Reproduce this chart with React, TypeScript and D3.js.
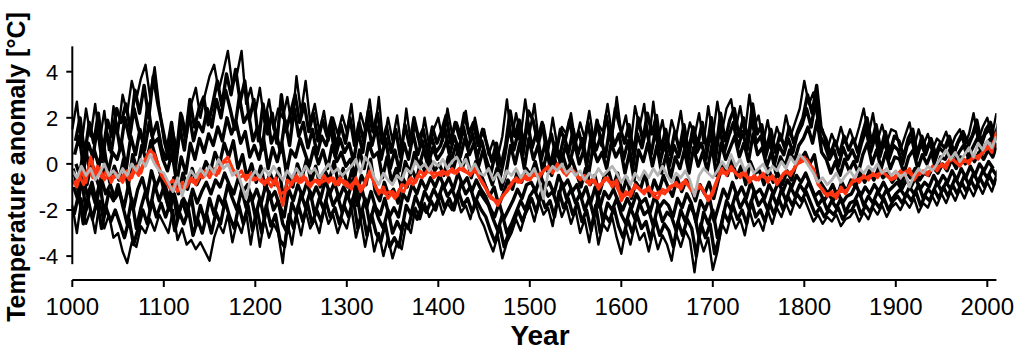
import React from "react";
import * as d3 from "d3";

const STEP = 5;

const xTicks = [1000, 1100, 1200, 1300, 1400, 1500, 1600, 1700, 1800, 1900, 2000];
const yTicks = [-4, -2, 0, 2, 4];

const hi = [
  1.5, 2.7, 0.8, 2.4, 1.2, 2.6, 1.0, 2.3, 0.6, 2.5,
  1.4, 3.0, 2.2, 3.6, 2.8, 3.7, 4.3, 2.9, 4.2, 2.5,
  1.0, 0.2, 1.4, 0.5, 2.1, 1.2, 2.6, 3.3, 2.0, 3.0,
  3.8, 4.3, 3.2, 4.0, 4.9, 3.4, 3.9, 4.9, 2.6, 3.3,
  2.2, 3.3, 1.8, 2.8, 1.5, 2.4, 2.0, 2.9, 1.6, 3.8,
  2.2, 3.6, 1.8, 2.6, 1.4, 2.3, 1.0, 2.0, 1.3, 2.1,
  1.4, 2.6, 0.9, 2.2, 1.5, 2.8, 1.2, 2.9, 0.8, 2.0,
  1.0, 2.1, 0.6, 2.4, 0.9, 1.7, 0.7, 2.0, 0.8, 1.5,
  2.0, 1.0, 2.4, 1.3, 1.8, 1.2, 2.3, 0.9, 2.0, 1.0,
  1.5, 0.4, 1.0, 0.3, 1.2, 2.8, 1.0, 2.2, 1.2, 2.8,
  1.4, 2.6, 0.9, 1.7, 0.6, 2.0, 0.8, 1.6, 1.3, 2.2,
  0.9, 1.8, 1.1, 2.3, 1.0, 1.7, 1.4, 2.6, 1.2, 2.9,
  1.3, 2.1, 0.8, 2.5, 1.6, 2.6, 0.9, 2.7, 1.0, 1.9,
  0.7, 1.9, 1.2, 2.3, 0.8, 1.8, 1.2, 2.2, 0.9, 2.5,
  1.2, 2.7, 1.4, 2.4, 2.8, 1.5, 2.5, 1.3, 3.0, 1.6,
  2.1, 0.9, 1.9, 0.7, 1.6, 1.0, 2.1, 1.2, 1.8, 2.4,
  3.6, 2.6, 3.1, 1.8, 1.5, 0.6, 1.3, 0.8, 1.6, 0.9,
  1.5, 0.9, 1.6, 2.4, 1.2, 2.2, 1.0, 1.7, 0.9, 1.5,
  1.4, 0.6, 1.2, 1.8, 0.7, 1.5, 0.8, 1.3, 0.6, 1.1,
  0.9, 1.4, 0.7, 1.2, 1.5, 0.8, 1.3, 2.2, 1.0, 1.6,
  2.0, 1.2, 2.2,
];

const lo = [
  -1.8, -3.0, -1.5, -2.6, -2.0, -3.0, -1.6, -2.8, -2.2, -3.2,
  -3.0, -3.8, -4.3, -3.4, -3.6, -2.7, -3.0, -2.4, -2.9, -2.2,
  -2.6, -3.0, -2.0, -3.3, -2.8, -3.5, -3.3, -3.7, -3.4, -3.8,
  -4.2, -3.2, -2.6, -3.0, -2.2, -3.4, -2.5, -3.0, -2.1, -3.5,
  -2.2, -3.6, -2.4, -3.2, -2.6, -3.0, -4.3, -2.5, -3.5, -2.2,
  -3.1, -2.0, -2.8, -2.4, -3.0, -1.9, -2.6, -2.2, -3.0, -2.4,
  -2.8, -1.9, -3.2, -2.4, -3.6, -2.6, -3.8, -3.0, -4.0, -3.2,
  -4.1, -3.4, -3.7, -2.6, -3.0, -1.9, -2.4, -1.7, -2.3, -1.9,
  -1.5, -2.2, -1.7, -2.0, -1.4, -2.1, -1.8, -2.4, -1.6, -2.3,
  -2.7, -3.3, -3.8, -3.1, -4.1, -3.4, -3.0, -2.4, -2.9, -2.2,
  -1.8, -2.5, -1.6, -2.2, -1.9, -2.7, -1.5, -2.3, -1.8, -2.6,
  -2.0, -3.0, -2.4, -3.4, -2.2, -3.5, -2.6, -2.9, -2.3, -3.2,
  -3.9, -2.8, -3.5, -2.6, -3.3, -3.0, -3.8, -2.9, -3.7, -3.1,
  -3.5, -4.2, -3.0, -3.6, -2.9, -3.3, -4.7, -3.1, -3.8, -3.2,
  -4.6, -3.8, -2.6, -3.0, -2.2, -2.8, -2.4, -3.1, -2.0, -2.7,
  -2.4, -2.9, -2.0, -2.6, -1.9, -2.3, -1.7, -2.2, -1.6, -1.9,
  -1.5, -2.0, -2.5, -2.2, -2.6, -2.3, -2.5, -2.2, -2.7, -2.4,
  -2.3, -2.0, -2.5, -2.1, -2.4, -1.9, -2.2, -1.8, -2.3, -1.9,
  -1.7, -2.0, -1.6, -1.9, -1.5, -2.1, -1.7, -1.9, -1.4, -1.8,
  -1.3, -1.7, -1.2, -1.6, -1.1, -1.5, -1.0, -1.4, -0.9, -1.3,
  -0.8, -1.2, -0.6,
];

const mid1 = [
  0.4, 1.2, -0.2, 0.9, 0.3, 1.6, 0.1, 1.4, 0.5, 1.8,
  0.6, 2.0, 1.1, 2.4, 1.5, 1.0, 2.6, 1.2, 1.8, 0.7,
  0.2, 1.2, -0.3, 1.6, 0.6, 2.2, 1.0, 1.8, 1.4, 2.4,
  1.6, 2.8, 2.0, 3.2, 2.4, 1.5, 2.9, 1.8, 2.2, 1.0,
  1.6, 0.6, 2.3, 0.9, 1.4, 0.5, 1.9, 0.8, 2.4, 1.2,
  1.8, 0.7, 1.5, 0.4, 1.2, 0.8, 1.6, 0.3, 1.1, 0.5,
  0.9, 0.1, 1.4, 0.5, 1.9, 0.8, 1.6, 0.2, 1.1, -0.2,
  0.6, -0.3, 0.9, 0.2, 1.3, 0.4, 1.0, 0.1, 1.2, 0.5,
  0.8, 1.5, 0.4, 1.2, 0.6, 1.6, 0.7, 1.3, 0.3, 1.0,
  0.2, -0.4, 0.5, -0.6, 0.3, 1.6, 0.6, 1.4, 0.4, 1.8,
  0.7, 1.4, 0.2, 1.0, -0.1, 0.9, 0.3, 1.2, 0.5, 1.5,
  0.4, 1.1, 0.0, 1.4, 0.6, 1.2, 0.3, 1.6, 0.8, 1.3,
  0.2, 1.0, -0.2, 1.3, 0.7, 1.6, 0.4, 1.5, 0.1, 0.9,
  -0.1, 0.8, 0.3, 1.1, 0.0, 1.3, 0.5, 0.9, 0.2, 1.4,
  0.1, 1.6, 0.5, 1.2, 1.8, 0.7, 1.4, 0.6, 2.0, 0.9,
  1.2, 0.3, 1.0, 0.0, 0.8, 0.4, 1.1, 0.5, 1.3, 1.7,
  2.4, 1.6, 2.8, 1.2, 0.8, 0.2, 0.6, -0.1, 0.7, 0.2,
  0.6, 0.1, 0.9, 1.5, 0.5, 1.2, 0.3, 1.0, 0.2, 0.8,
  0.6, 0.0, 0.8, 1.1, 0.2, 0.9, 0.4, 1.0, 0.1, 0.7,
  0.5, 1.0, 0.3, 0.9, 1.2, 0.6, 1.1, 1.6, 0.7, 1.3,
  1.5, 0.9, 1.8,
];

const mid2 = [
  -1.4, -0.6, -2.0, -1.0, -1.7, -0.8, -2.2, -1.2, -1.6, -0.9,
  -1.8, -2.6, -1.5, -2.8, -1.9, -1.2, -2.0, -0.9, -1.6, -1.0,
  -1.9, -1.2, -2.4, -1.6, -2.2, -1.4, -2.7, -1.8, -2.5, -1.5,
  -2.2, -1.4, -1.8, -0.9, -1.5, -2.0, -1.1, -1.9, -1.3, -2.3,
  -1.5, -2.4, -1.2, -2.0, -1.6, -2.6, -3.0, -1.7, -2.2, -1.3,
  -1.9, -1.2, -2.2, -1.5, -2.0, -1.1, -1.8, -1.4, -2.1, -1.3,
  -1.8, -1.0, -2.3, -1.5, -2.6, -1.8, -2.4, -2.8, -2.0, -3.0,
  -2.5, -2.9, -1.8, -2.2, -1.4, -1.9, -1.2, -1.6, -1.1, -1.5,
  -0.9, -1.4, -1.1, -1.6, -0.8, -1.3, -1.0, -1.7, -1.2, -1.5,
  -1.8, -2.4, -2.9, -2.2, -3.0, -2.6, -2.1, -1.6, -2.0, -1.4,
  -1.1, -1.6, -0.9, -1.4, -1.2, -1.8, -0.8, -1.5, -1.1, -1.7,
  -1.3, -2.0, -1.5, -2.3, -1.4, -2.5, -1.7, -2.0, -1.5, -2.2,
  -2.6, -1.9, -2.4, -1.7, -2.2, -2.0, -2.7, -1.8, -2.5, -2.1,
  -2.3, -2.9, -2.0, -2.5, -1.8, -2.2, -3.2, -2.1, -2.6, -2.0,
  -3.2, -2.5, -1.6, -2.0, -1.3, -1.9, -1.5, -2.0, -1.2, -1.8,
  -1.5, -2.0, -1.3, -1.8, -1.1, -1.6, -1.0, -1.4, -0.9, -1.2,
  -0.8, -1.3, -1.8, -1.5, -2.0, -1.6, -1.9, -1.5, -2.1, -1.7,
  -1.6, -1.2, -1.8, -1.4, -1.7, -1.2, -1.5, -1.1, -1.6, -1.3,
  -1.1, -1.4, -1.0, -1.3, -0.9, -1.5, -1.1, -1.3, -0.8, -1.2,
  -0.8, -1.1, -0.6, -1.0, -0.5, -0.9, -0.4, -0.8, -0.3, -0.6,
  -0.2, -0.5, 0.1,
];

const mid3 = [
  -0.2, -1.1, 0.3, -0.9, 0.1, -0.6, -1.2, 0.2, -0.8, -0.1,
  -0.7, 0.2, -1.0, 0.4, -0.3, 0.8, 0.1, 1.0, 0.3, -0.4,
  -0.9, -1.5, -0.6, -1.3, -0.4, -1.1, -0.2, -0.9, -0.5, 0.1,
  -0.3, 0.5, 0.0, 0.9, 0.3, 1.0, -0.2, 0.4, -0.6, 0.0,
  -0.8, -0.1, -1.1, -0.4, -0.9, -0.2, -1.6, -0.5, -1.0, 0.0,
  -0.6, 0.2, -0.8, -0.1, -1.0, -0.3, -0.7, 0.1, -0.9, -0.2,
  -1.0, -0.2, -1.3, -0.5, -0.9, 0.2, -1.2, -1.6, -0.8, -1.4,
  -1.1, -1.7, -0.6, -1.0, -0.2, -0.7, 0.1, -0.4, 0.2, -0.3,
  0.0, -0.5, 0.3, -0.3, 0.5, -0.2, 0.4, -0.6, 0.1, -0.4,
  -0.9, -1.4, -1.0, -1.8, -1.3, -0.7, -1.1, -0.4, -0.8, -0.2,
  -0.5, 0.1, -0.7, -0.1, -0.4, 0.3, -0.2, 0.4, -0.3, 0.2,
  -0.4, -1.0, -0.2, -0.9, -0.5, -1.3, -0.6, -0.3, -1.0, -0.4,
  -1.3, -0.6, -1.5, -0.8, -1.1, -0.4, -1.4, -0.7, -1.2, -0.5,
  -1.0, -1.4, -0.6, -1.2, -0.7, -1.0, -1.6, -0.9, -1.3, -0.8,
  -1.5, -0.7, 0.0, -0.5, 0.2, -0.6, -0.1, -0.9, 0.1, -0.4,
  -0.3, -0.9, -0.2, -0.8, -0.4, -0.9, -0.3, -0.7, 0.0, 0.2,
  0.5, 0.0, 0.4, -0.7, -1.0, -1.3, -0.9, -1.4, -0.8, -1.2,
  -0.7, -1.0, -0.4, -0.8, -0.3, -0.7, -0.2, -0.6, -0.4, -0.8,
  -0.5, -0.9, -0.3, -0.6, -0.2, -0.7, -0.4, -0.5, -0.1, -0.4,
  0.0, -0.3, 0.2, -0.2, 0.3, 0.0, 0.4, 0.1, 0.5, 0.2,
  0.6, 0.3, 0.9,
];

const mid4 = [
  1.0, 2.0, 0.4, 1.8, 0.9, 2.2, 0.5, 1.9, 1.2, 2.4,
  1.8, 2.6, 1.5, 3.2, 2.2, 3.4, 2.0, 3.8, 2.6, 1.6,
  0.6, 1.8, 0.3, 2.2, 1.1, 2.8, 1.6, 2.4, 2.9, 1.7,
  2.6, 3.6, 2.5, 3.9, 3.0, 4.1, 2.7, 3.6, 1.9, 2.8,
  1.0, 2.6, 1.3, 2.2, 0.9, 3.0, 1.4, 2.2, 3.0, 1.8,
  2.6, 1.4, 2.2, 1.0, 1.9, 1.2, 2.0, 0.7, 1.7, 0.9,
  2.0, 0.8, 1.8, 1.0, 2.3, 1.4, 2.2, 0.9, 1.6, 0.5,
  1.5, 0.3, 1.7, 0.8, 2.0, 1.1, 1.5, 0.5, 1.6, 0.9,
  1.4, 2.1, 0.9, 1.8, 1.1, 2.2, 1.3, 1.8, 0.8, 1.5,
  0.8, 0.1, 0.9, -0.1, 0.8, 2.3, 1.2, 1.9, 0.8, 2.3,
  1.9, 1.0, 1.8, 0.5, 1.3, 0.4, 1.5, 1.0, 1.9, 0.8,
  1.4, 0.6, 1.8, 0.7, 1.9, 0.8, 2.1, 1.0, 2.4, 1.6,
  0.9, 1.7, 0.4, 2.0, 1.0, 2.2, 1.3, 2.1, 0.6, 1.5,
  0.4, 1.4, 0.6, 1.7, 0.5, 1.6, 0.8, 1.8, 0.6, 2.0,
  0.6, 2.2, 1.0, 1.9, 2.4, 1.2, 2.0, 1.0, 2.6, 1.3,
  1.7, 0.6, 1.5, 0.5, 1.3, 0.7, 1.6, 0.9, 1.5, 2.0,
  3.0, 2.2, 3.4, 1.5, 1.1, 0.4, 1.0, 0.4, 1.2, 0.6,
  1.1, 0.5, 1.3, 2.0, 0.9, 1.7, 0.6, 1.4, 0.5, 1.2,
  1.0, 0.3, 1.1, 1.5, 0.4, 1.2, 0.6, 1.1, 0.4, 0.9,
  0.7, 1.2, 0.5, 1.0, 1.4, 0.9, 1.2, 1.9, 0.9, 1.5,
  1.8, 1.1, 2.0,
];

const mid5 = [
  -2.2, -1.3, -2.6, -1.5, -2.4, -1.6, -2.8, -1.9, -2.5, -2.0,
  -2.6, -3.2, -2.4, -3.5, -2.8, -2.0, -2.6, -1.6, -2.3, -1.7,
  -2.3, -1.7, -2.9, -2.1, -2.6, -2.0, -3.1, -2.4, -3.0, -2.2,
  -3.0, -2.1, -2.6, -1.6, -2.3, -2.8, -1.8, -2.6, -1.8, -2.9,
  -2.0, -3.0, -1.8, -2.7, -2.2, -3.3, -3.6, -2.2, -2.8, -1.8,
  -2.5, -1.7, -2.6, -2.0, -2.5, -1.6, -2.3, -1.9, -2.6, -1.8,
  -2.3, -1.5, -2.8, -2.0, -3.1, -2.2, -3.0, -3.4, -2.6, -3.6,
  -3.2, -3.6, -2.5, -2.8, -2.0, -2.4, -1.8, -2.1, -1.6, -2.0,
  -1.3, -1.9, -1.5, -2.0, -1.2, -1.8, -1.5, -2.1, -1.6, -2.0,
  -2.3, -2.9, -3.4, -2.7, -3.6, -3.0, -2.6, -2.0, -2.5, -1.9,
  -1.5, -2.1, -1.3, -1.9, -1.6, -2.3, -1.2, -1.9, -1.5, -2.2,
  -1.7, -2.5, -2.0, -2.9, -1.8, -3.0, -2.2, -2.5, -1.9, -2.7,
  -3.2, -2.4, -3.0, -2.2, -2.8, -2.5, -3.3, -2.4, -3.1, -2.6,
  -2.9, -3.6, -2.5, -3.1, -2.4, -2.8, -4.0, -2.6, -3.2, -2.6,
  -3.9, -3.2, -2.1, -2.5, -1.8, -2.4, -2.0, -2.6, -1.6, -2.3,
  -2.0, -2.5, -1.7, -2.2, -1.5, -2.0, -1.4, -1.8, -1.3, -1.6,
  -1.2, -1.7, -2.2, -1.9, -2.3, -2.0, -2.2, -1.9, -2.4, -2.1,
  -2.0, -1.6, -2.2, -1.8, -2.1, -1.6, -1.9, -1.5, -2.0, -1.6,
  -1.4, -1.7, -1.3, -1.6, -1.2, -1.8, -1.4, -1.6, -1.1, -1.5,
  -1.0, -1.4, -0.9, -1.3, -0.8, -1.2, -0.7, -1.1, -0.6, -1.0,
  -0.5, -0.9, -0.3,
];

const mid6 = [
  0.0, -0.6, 0.8, -0.3, 0.6, -0.1, 0.9, -0.4, 0.5, 0.2,
  0.9, -0.2, 1.2, 0.4, 1.5, 0.6, 1.8, 0.9, 1.1, 0.2,
  -0.3, 0.5, -0.8, 0.3, -0.4, 0.9, 0.2, 1.1, 0.5, 1.3,
  0.8, 1.6, 1.0, 2.0, 1.3, 1.8, 0.9, 1.4, 0.3, 0.8,
  0.2, 1.1, -0.2, 0.7, 0.1, 0.9, -0.4, 0.6, 0.3, 1.1,
  0.5, -0.1, 0.7, 0.0, 0.6, -0.2, 0.8, 0.1, 0.5, -0.1,
  0.2, -0.5, 0.6, -0.2, 0.9, 0.3, 0.5, -0.6, 0.3, -0.8,
  -0.2, -0.9, 0.1, -0.4, 0.5, -0.1, 0.6, 0.0, 0.7, 0.2,
  0.5, 1.0, 0.1, 0.8, 0.3, 1.1, 0.4, 0.9, -0.1, 0.6,
  -0.3, -0.9, -0.2, -1.1, -0.4, 0.8, 0.0, 0.9, -0.2, 1.1,
  0.2, 0.8, -0.3, 0.5, -0.5, 0.6, 0.0, 0.8, 0.1, 0.9,
  0.0, 0.6, -0.5, 0.7, 0.1, 0.5, -0.2, 0.9, 0.3, 0.7,
  -0.4, 0.5, -0.7, 0.6, 0.1, 0.9, -0.1, 0.8, -0.4, 0.4,
  -0.6, 0.3, -0.2, 0.6, -0.4, 0.7, -0.1, 0.5, -0.3, 0.8,
  -0.5, 0.9, 0.2, 0.7, 1.2, 0.3, 0.9, 0.1, 1.3, 0.4,
  0.7, -0.1, 0.5, -0.4, 0.3, -0.1, 0.6, 0.1, 0.8, 1.1,
  1.6, 0.9, 1.9, 0.5, 0.2, -0.4, 0.1, -0.5, 0.2, -0.3,
  0.1, -0.4, 0.4, 0.9, 0.0, 0.6, -0.2, 0.5, -0.2, 0.3,
  0.2, -0.4, 0.3, 0.6, -0.2, 0.4, 0.0, 0.5, -0.3, 0.3,
  0.2, 0.6, 0.0, 0.5, 0.8, 0.3, 0.7, 1.1, 0.4, 0.9,
  1.1, 0.6,
];

const mid7 = [
  -1.0, -1.6, -0.5, -1.4, -0.8, -1.7, -0.6, -1.3, -0.9, -1.5,
  -1.2, -1.9, -0.9, -2.0, -1.1, -0.6, -1.4, -0.3, -1.0, -0.5,
  -1.4, -2.0, -1.3, -2.1, -1.5, -1.9, -1.1, -1.7, -1.2, -0.8,
  -1.3, -0.7, -1.0, -0.4, -0.9, -1.3, -0.6, -1.2, -0.9, -1.6,
  -1.1, -1.7, -0.9, -1.5, -1.2, -1.8, -2.3, -1.1, -1.6, -0.9,
  -1.4, -0.8, -1.5, -1.0, -1.5, -0.7, -1.3, -0.8, -1.5, -1.0,
  -1.4, -0.7, -1.8, -1.1, -1.9, -1.2, -1.9, -2.2, -1.5, -2.3,
  -1.9, -2.3, -1.3, -1.6, -0.9, -1.3, -0.7, -1.1, -0.6, -1.0,
  -0.5, -1.0, -0.6, -1.1, -0.4, -0.9, -0.6, -1.2, -0.7, -1.1,
  -1.4, -1.9, -2.3, -1.7, -2.4, -2.0, -1.6, -1.1, -1.5, -0.9,
  -0.8, -1.2, -0.5, -1.0, -0.8, -1.3, -0.5, -1.0, -0.7, -1.2,
  -0.9, -1.5, -1.0, -1.7, -1.0, -1.9, -1.2, -1.5, -1.1, -1.6,
  -2.0, -1.5, -1.9, -1.3, -1.7, -1.5, -2.1, -1.4, -1.9, -1.6,
  -1.8, -2.3, -1.5, -1.9, -1.3, -1.7, -2.5, -1.6, -2.0, -1.5,
  -2.5, -1.8, -1.1, -1.5, -0.8, -1.4, -1.0, -1.5, -0.8, -1.3,
  -1.1, -1.5, -0.9, -1.3, -0.8, -1.2, -0.7, -1.0, -0.5, -0.8,
  -0.4, -0.9, -1.4, -1.2, -1.6, -1.3, -1.6, -1.2, -1.7, -1.4,
  -1.3, -0.9, -1.4, -1.0, -1.3, -0.9, -1.2, -0.8, -1.2, -1.0,
  -0.8, -1.1, -0.7, -1.0, -0.6, -1.1, -0.8, -1.0, -0.5, -0.9,
  -0.5, -0.8, -0.3, -0.7, -0.2, -0.6, -0.1, -0.5, 0.0, -0.3,
  0.1, -0.2,
];

const redMean = [
  -0.7, -1.0, -0.3, -0.8, 0.3, -0.5, -0.2, -0.7, -0.4, -0.6,
  -0.5, -0.8, -0.3, -0.6, -0.1, -0.4, 0.2, 0.6, 0.4, -0.2,
  -0.6, -0.9, -0.7, -1.2, -0.8, -1.0, -0.6, -0.9, -0.5, -0.3,
  -0.6, -0.2, -0.4, 0.1, 0.3, -0.2, -0.5, -0.3, -0.7, -0.4,
  -0.7, -0.5, -0.9, -0.6, -0.8, -1.0, -1.8, -0.7, -0.9, -0.5,
  -0.8, -0.6, -1.0, -0.7, -0.9, -0.5, -0.8, -0.6, -0.9, -0.7,
  -0.8, -1.1, -0.6, -1.2, -0.9, -0.3, -0.8, -1.3, -1.0, -1.5,
  -1.2, -1.4, -0.9, -1.0, -0.6, -0.8, -0.3, -0.5, -0.2, -0.6,
  -0.4, -0.3, -0.5, -0.2, -0.4, -0.1, -0.3, -0.5, -0.2, -0.6,
  -0.9, -1.3, -1.5, -1.8, -1.4, -1.2, -0.9, -0.6, -0.8, -0.5,
  -0.7, -0.4, -0.6, -0.3, -0.1, -0.4, 0.0, -0.2, -0.5, -0.2,
  -0.4, -0.7, -0.5, -0.9, -0.6, -1.1, -0.8, -0.6, -1.0, -0.7,
  -1.6, -1.2, -1.4, -0.9, -1.1, -1.3, -1.0, -1.4, -1.5, -1.1,
  -1.2, -1.0, -0.8, -1.1, -0.7, -1.0, -1.3, -0.9, -1.2, -1.6,
  -1.3, -0.7, -0.2, -0.5, -0.1, -0.4, -0.6, -0.3, -0.8, -0.5,
  -0.7, -0.4, -0.8, -0.5, -0.9, -0.6, -0.3, -0.5, -0.1, 0.2,
  0.3, 0.0, -0.2, -0.9, -1.1, -1.4, -1.2, -1.5, -1.0, -1.3,
  -0.9, -0.6, -0.8, -0.5, -0.7, -0.4, -0.6, -0.3, -0.5, -0.7,
  -0.6, -0.3, -0.5, -0.2, -0.7, -0.4, -0.3, -0.5, -0.1, -0.3,
  0.0, -0.2, 0.3, 0.1, -0.1, 0.2, 0.0, 0.4, 0.2, 0.5,
  0.8, 0.5, 1.4,
];

const redMean2 = [
  -0.9, -0.5, -0.9, -0.2, -0.6, -0.1, -0.6, -0.3, -0.8, -0.4,
  -0.7, -0.4, -0.7, -0.2, -0.5, 0.0, 0.4, 0.3, 0.1, -0.5,
  -0.8, -1.1, -0.9, -0.9, -1.1, -0.7, -0.8, -0.4, -0.6, -0.4,
  -0.3, -0.5, 0.0, 0.1, 0.0, -0.4, -0.6, -0.5, -0.5, -0.7,
  -0.6, -0.8, -0.7, -1.0, -0.6, -1.3, -1.2, -1.0, -0.6, -0.8,
  -0.5, -0.9, -0.8, -0.7, -0.8, -0.7, -0.6, -0.9, -0.6, -0.9,
  -1.0, -0.8, -0.9, -1.0, -0.5, -0.6, -1.1, -1.2, -1.3, -1.2,
  -1.5, -1.1, -1.2, -0.7, -0.9, -0.5, -0.6, -0.3, -0.4, -0.4,
  -0.5, -0.4, -0.3, -0.4, -0.2, -0.3, -0.4, -0.3, -0.4, -0.8,
  -1.1, -1.5, -1.6, -1.6, -1.3, -1.0, -0.7, -0.8, -0.6, -0.7,
  -0.5, -0.5, -0.4, -0.2, -0.3, -0.2, -0.1, -0.4, -0.3, -0.3,
  -0.6, -0.6, -0.8, -0.7, -0.9, -0.9, -0.6, -0.8, -0.8, -1.2,
  -1.4, -1.3, -1.1, -1.0, -1.2, -1.1, -1.2, -1.3, -1.2, -1.3,
  -1.0, -0.9, -1.0, -0.8, -0.9, -1.2, -1.1, -1.0, -1.4, -1.4,
  -0.9, -0.4, -0.4, -0.3, -0.3, -0.5, -0.4, -0.6, -0.6, -0.7,
  -0.5, -0.6, -0.6, -0.7, -0.7, -0.4, -0.4, -0.3, 0.0, 0.1,
  0.2, -0.1, -0.6, -1.0, -1.3, -1.3, -1.4, -1.2, -1.2, -1.1,
  -0.8, -0.7, -0.6, -0.6, -0.5, -0.5, -0.4, -0.4, -0.6, -0.6,
  -0.4, -0.4, -0.3, -0.5, -0.5, -0.4, -0.4, -0.3, -0.2, -0.1,
  -0.1, 0.1, 0.2, 0.0, 0.1, 0.1, 0.2, 0.3, 0.4, 0.6,
  0.7, 1.0,
];

const grayMean = [
  -0.3, -0.6, -0.1, -0.5, -0.2, -0.7, -0.4, 0.0, -0.5, -0.3,
  -0.6, -0.2, -0.5, 0.0, -0.3, 0.2, -0.1, 0.4, 0.0, -0.3,
  -0.4, -0.8, -1.2, -0.6, -1.4, -0.7, -0.3, -0.6, -0.2, -0.5,
  -0.1, -0.4, 0.2, -0.2, 0.0, -0.5, -0.3, -0.9, -1.5, -0.6,
  -0.3, -0.6, -0.2, -0.5, -0.1, -0.4, -0.7, -0.3, -0.6, -0.2,
  -0.5, -0.1, -0.4, -0.2, -0.6, -0.3, 0.0, -0.4, -0.2, -0.5,
  -0.3, -0.1, 0.2, -0.4, 0.3, 0.0, -0.6, -0.9, -0.4, -0.7,
  -0.9, -0.5, -0.7, -0.2, -0.4, 0.1, -0.2, 0.0, -0.3, 0.1,
  -0.1, 0.2, -0.2, 0.1, 0.3, -0.1, 0.2, -0.3, 0.0, -0.4,
  -0.5, -0.2, -0.7, -0.4, -0.8, -0.3, -0.5, -0.2, -0.6, -0.3,
  -0.5, -0.2, -0.7, -1.5, -0.4, -0.1, -0.3, 0.0, -0.4, -0.2,
  -0.5, -0.3, -0.7, -0.4, -0.6, -0.2, -0.5, -0.3, -0.1, -0.4,
  -0.8, -0.5, -0.9, -0.4, -0.7, -0.3, -0.6, -0.2, -0.5, -0.1,
  -0.5, -0.8, -0.4, -0.6, -0.3, -0.7, -1.4, -0.5, -0.2, -0.4,
  -0.6, -0.3, 0.1, -0.2, 0.4, -0.1, 0.2, -0.3, 0.0, -0.4,
  -0.2, 0.0, -0.4, -0.1, -0.3, 0.1, -0.2, 0.3, 0.0, 0.4,
  0.2, -0.1, -0.4, -0.8, -0.6, -0.9, -0.7, -0.4, -0.8, -0.5,
  -0.3, -0.6, -0.2, -0.4, -0.1, -0.3, 0.0, -0.4, -0.2, -0.5,
  -0.3, -0.6, -0.4, -1.0, -0.5, -0.2, -0.4, -0.1, -0.3, 0.0,
  0.3, 0.6, 0.2, 0.5, 0.1, 0.4, 0.7, 0.3, 0.9, 0.6,
  1.0, 0.7, 1.2,
];

// first sample year of each series (samples every STEP years)
const blackSeries = [
  { values: hi, start: 1000, outer: true },
  { values: lo, start: 1000, outer: true },
  { values: mid1, start: 1002.5, outer: false },
  { values: mid2, start: 1005, outer: false },
  { values: mid3, start: 1001, outer: false },
  { values: mid4, start: 1003.5, outer: false },
  { values: mid5, start: 1002, outer: false },
  { values: mid6, start: 1004, outer: false },
  { values: mid7, start: 1001.5, outer: false },
];
const redSeries = [
  { values: redMean, start: 1000 },
  { values: redMean2, start: 1002.5 },
];
const graySeries = [{ values: grayMean, start: 1000 }];

const W = 1024;
const H = 358;

export default function App() {
  const x = d3.scaleLinear().domain([1000, 2000]).range([72.3, 987.3]);
  const y = d3.scaleLinear().domain([0, 4]).range([163.9, 71.7]);

  const makeLine = (start: number) =>
    d3
      .line<number>()
      .x((_, i) => x(start + i * STEP))
      .y((v) => y(v));

  const font = "Liberation Sans, Arial, Helvetica, sans-serif";
  const xAxisY = 280;
  const clipX0 = x(1000) - 1;
  const clipX1 = x(2010);

  return (
    <svg
      width={W}
      height={H}
      viewBox={`0 0 ${W} ${H}`}
      style={{ position: "absolute", left: 0, top: 0, background: "#fff" }}
      fontFamily={font}
    >
      <defs>
        <clipPath id="plotClip">
          <rect x={clipX0} y={0} width={clipX1 - clipX0} height={xAxisY - 2} />
        </clipPath>
      </defs>
      <rect x={0} y={0} width={W} height={H} fill="#fff" />
      <g clipPath="url(#plotClip)">
        {blackSeries.map((s, k) => (
          <path
            key={"b" + k}
            d={makeLine(s.start)(s.values) || ""}
            fill="none"
            stroke="#000"
            strokeWidth={s.outer ? 2.4 : 3.4}
            strokeLinejoin="round"
          />
        ))}
        {redSeries.map((s, k) => (
          <path
            key={"r" + k}
            d={makeLine(s.start)(s.values) || ""}
            fill="none"
            stroke="#ff3410"
            strokeWidth={3}
            strokeLinejoin="round"
          />
        ))}
        {graySeries.map((s, k) => (
          <path
            key={"g" + k}
            d={makeLine(s.start)(s.values) || ""}
            fill="none"
            stroke="#b4b4b4"
            strokeWidth={2.8}
            strokeLinejoin="round"
          />
        ))}
      </g>

      {/* Y axis */}
      <line x1={x(1000)} x2={x(1000)} y1={y(5.1)} y2={y(-4.35)} stroke="#000" strokeWidth={2} />
      {yTicks.map((t) => (
        <g key={t}>
          <line x1={x(1000) - 6} x2={x(1000)} y1={y(t)} y2={y(t)} stroke="#000" strokeWidth={2} />
          <text x={x(1000) - 14} y={y(t)} dy="0.36em" textAnchor="end" fontSize={22} fill="#000">
            {t}
          </text>
        </g>
      ))}

      {/* X axis */}
      <line x1={x(1000)} x2={x(2010)} y1={xAxisY} y2={xAxisY} stroke="#000" strokeWidth={2} />
      {xTicks.map((t) => (
        <g key={t}>
          <line x1={x(t)} x2={x(t)} y1={xAxisY} y2={xAxisY + 7} stroke="#000" strokeWidth={2} />
          <text x={x(t)} y={315} textAnchor="middle" fontSize={24} fill="#000">
            {t}
          </text>
        </g>
      ))}
      <text x={540} y={345} textAnchor="middle" fontSize={28} fontWeight="bold" fill="#000">
        Year
      </text>
      <text
        transform={`translate(25,167) rotate(-90)`}
        textAnchor="middle"
        fontSize={25}
        fontWeight="bold"
        fill="#000"
      >
        Temperature anomaly [°C]
      </text>
    </svg>
  );
}
